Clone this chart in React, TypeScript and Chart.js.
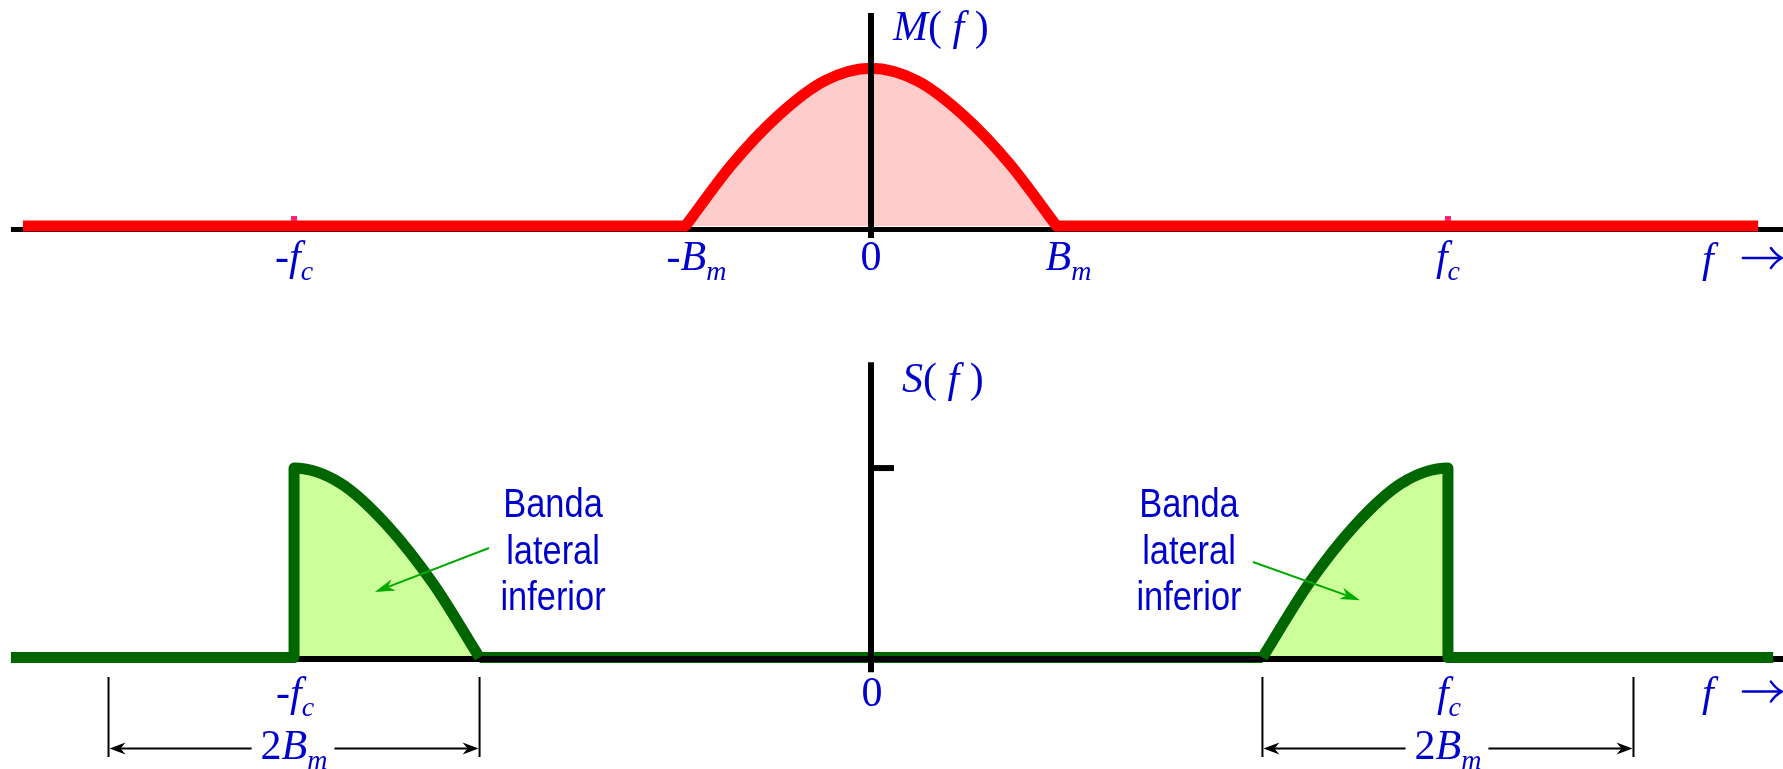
import React, { useEffect, useRef } from "react";
import { Chart, registerables } from "chart.js";

Chart.register(...registerables);

// ---- Data (frequency in units of B_m, amplitudes normalised to the peak) ----
const BM = 1;
const FC = 3.11;

// Message spectrum M(f)
const messageFreqs = [-1, -0.75, -0.5, -0.25, 0, 0.25, 0.5, 0.75, 1];
const messageValues = [0, 0.39, 0.7, 0.92, 1, 0.92, 0.7, 0.39, 0];

// Lower side bands of S(f)
const lsbLeftFreqs = [-3.11, -2.86, -2.61, -2.36, -2.11];
const lsbLeftValues = [1, 0.92, 0.7, 0.39, 0];
const lsbRightFreqs = [2.11, 2.36, 2.61, 2.86, 3.11];
const lsbRightValues = [0, 0.39, 0.7, 0.92, 1];

// Extent of the traces along f
const topTraceRange = [-4.571, 4.782];
const bottomTraceRange = [-4.636, 4.863];
const axisRange = [-4.636, 4.916];

// Tick labels
const topTickValues = [-FC, -BM, 0, BM, FC];
const topTickLabels = ["-fc", "-Bm", "0", "Bm", "fc"];
const bottomTickValues = [-FC, 0, FC];
const bottomTickLabels = ["-fc", "0", "fc"];
const dimensionCenters = [-FC, FC];
const bandLabelLines = ["Banda", "lateral", "inferior"];

// ---- Styling ----
const BLUE = "#0000cc";
const RED = "#ff0000";
const PINK = "#ffcccc";
const DKGREEN = "#006600";
const LTGREEN = "#ccff99";
const ARROWGREEN = "#00aa00";

type Part = { t: string; i?: boolean; sub?: boolean };
const RICH: Record<string, Part[]> = {
  "-fc": [{ t: "-" }, { t: "f", i: true }, { t: "c", i: true, sub: true }],
  fc: [{ t: "f", i: true }, { t: "c", i: true, sub: true }],
  "-Bm": [{ t: "-" }, { t: "B", i: true }, { t: "m", i: true, sub: true }],
  Bm: [{ t: "B", i: true }, { t: "m", i: true, sub: true }],
  "2Bm": [{ t: "2" }, { t: "B", i: true }, { t: "m", i: true, sub: true }],
  "0": [{ t: "0" }],
  "M(f)": [{ t: "M", i: true }, { t: "( " }, { t: "f", i: true }, { t: " )" }],
  "S(f)": [{ t: "S", i: true }, { t: "( " }, { t: "f", i: true }, { t: " )" }],
  f: [{ t: "f", i: true }],
};

const LABEL_DX: Record<string, number> = { "-Bm": 11, Bm: 12 };

function fontFor(p: Part) {
  return `${p.i ? "italic " : ""}${p.sub ? 28 : 42}px "Liberation Serif", "Times New Roman", "DejaVu Serif", serif`;
}

function drawRich(ctx: CanvasRenderingContext2D, parts: Part[], x: number, y: number, align: "left" | "center") {
  let w = 0;
  const ws: number[] = [];
  for (const p of parts) {
    ctx.font = fontFor(p);
    const m = ctx.measureText(p.t).width;
    ws.push(m);
    w += m;
  }
  let cx = align === "center" ? x - w / 2 : x;
  ctx.textAlign = "left";
  ctx.textBaseline = "alphabetic";
  parts.forEach((p, k) => {
    ctx.font = fontFor(p);
    ctx.fillText(p.t, cx, y + (p.sub ? 10 : 0));
    cx += ws[k];
  });
  return w;
}

function arrowHead(
  ctx: CanvasRenderingContext2D,
  x1: number, y1: number, x2: number, y2: number,
  len: number, half: number, notch: number
) {
  const a = Math.atan2(y2 - y1, x2 - x1);
  ctx.save();
  ctx.translate(x2, y2);
  ctx.rotate(a);
  ctx.beginPath();
  ctx.moveTo(0, 0);
  ctx.lineTo(-len, -half);
  ctx.lineTo(-len + notch, 0);
  ctx.lineTo(-len, half);
  ctx.closePath();
  ctx.fill();
  ctx.restore();
}

// math-style right arrow (as in "f ->")
function mathArrow(ctx: CanvasRenderingContext2D, x1: number, x2: number, y: number) {
  ctx.save();
  ctx.strokeStyle = BLUE;
  ctx.lineWidth = 2.6;
  ctx.lineCap = "round";
  ctx.beginPath();
  ctx.moveTo(x1, y);
  ctx.lineTo(x2 - 1, y);
  ctx.stroke();
  ctx.lineWidth = 2.4;
  ctx.beginPath();
  ctx.moveTo(x2 - 11, y - 10);
  ctx.quadraticCurveTo(x2 - 6, y - 3, x2, y);
  ctx.quadraticCurveTo(x2 - 6, y + 3, x2 - 11, y + 10);
  ctx.stroke();
  ctx.restore();
}

const annotationPlugin = {
  id: "dsbAnnotations",
  afterDraw(chart: any) {
    const ctx: CanvasRenderingContext2D = chart.ctx;
    const xs = chart.scales.x;
    const yT = chart.scales.yT;
    const yB = chart.scales.yB;
    const X = (v: number) => xs.getPixelForValue(v);
    const topBase = yT.getPixelForValue(0);
    const botBase = yB.getPixelForValue(0);
    const x0 = X(0);

    ctx.save();
    ctx.fillStyle = BLUE;

    // tick labels
    topTickValues.forEach((v, k) => {
      const lab = topTickLabels[k];
      drawRich(ctx, RICH[lab], X(v) + (LABEL_DX[lab] || 0), topBase + 44, "center");
    });
    bottomTickValues.forEach((v, k) => {
      const lab = bottomTickLabels[k];
      drawRich(ctx, RICH[lab], X(v) + 1, botBase + 48, "center");
    });

    // axis names
    drawRich(ctx, RICH["M(f)"], x0 + 22, topBase - 186, "left");
    drawRich(ctx, RICH["S(f)"], x0 + 31, botBase - 265.5, "left");
    drawRich(ctx, RICH.f, X(4.48), topBase + 46, "left");
    mathArrow(ctx, X(4.7), X(4.91), topBase + 32);
    drawRich(ctx, RICH.f, X(4.48), botBase + 48, "left");
    mathArrow(ctx, X(4.7), X(4.91), botBase + 34);

    // "Banda lateral inferior" labels
    const bandX = [-1.714, 1.714];
    const bandY = yB.getPixelForValue(0.741);
    ctx.font = '40px "Liberation Sans", Arial, sans-serif';
    ctx.textAlign = "center";
    bandX.forEach((bx) => {
      bandLabelLines.forEach((t, k) => {
        ctx.save();
        ctx.translate(X(bx), bandY + k * 46.5);
        ctx.scale(0.86, 1);
        ctx.fillText(t, 0, 0);
        ctx.restore();
      });
    });

    // green pointer arrows
    const arrows = [
      { from: [-2.059, 0.578], to: [-2.674, 0.346] },
      { from: [2.059, 0.504], to: [2.636, 0.303] },
    ];
    ctx.strokeStyle = ARROWGREEN;
    ctx.fillStyle = ARROWGREEN;
    ctx.lineWidth = 2;
    arrows.forEach((a) => {
      const x1 = X(a.from[0]), y1 = yB.getPixelForValue(a.from[1]);
      const x2 = X(a.to[0]), y2 = yB.getPixelForValue(a.to[1]);
      const ang = Math.atan2(y2 - y1, x2 - x1);
      ctx.beginPath();
      ctx.moveTo(x1, y1);
      ctx.lineTo(x2 - Math.cos(ang) * 12, y2 - Math.sin(ang) * 12);
      ctx.stroke();
      arrowHead(ctx, x1, y1, x2, y2, 20, 6, 6);
    });

    // dimension lines 2B_m
    ctx.strokeStyle = "#000";
    ctx.fillStyle = "#000";
    dimensionCenters.forEach((c) => {
      const xl = X(c - BM), xr = X(c + BM), xc = X(c);
      const yTop = botBase + 19.5, yBot = botBase + 99.5, ya = botBase + 91;
      ctx.lineWidth = 2;
      ctx.beginPath();
      ctx.moveTo(xl, yTop); ctx.lineTo(xl, yBot);
      ctx.moveTo(xr, yTop); ctx.lineTo(xr, yBot);
      ctx.stroke();
      ctx.fillStyle = BLUE;
      const w = drawRich(ctx, RICH["2Bm"], xc, botBase + 101, "center");
      ctx.fillStyle = "#000";
      const gl = xc - w / 2 - 9, gr = xc + w / 2 + 7;
      ctx.beginPath();
      ctx.moveTo(gl, ya); ctx.lineTo(xl + 8, ya);
      ctx.moveTo(gr, ya); ctx.lineTo(xr - 8, ya);
      ctx.stroke();
      arrowHead(ctx, gl, ya, xl + 1, ya, 16, 6, 5);
      arrowHead(ctx, gr, ya, xr - 1, ya, 16, 6, 5);
    });

    ctx.restore();
  },
};

const pts = (xs: number[], ys: number[]) => xs.map((x, i) => ({ x, y: ys[i] }));
const seg = (x1: number, y1: number, x2: number, y2: number) => [{ x: x1, y: y1 }, { x: x2, y: y2 }];

export default function App() {
  const ref = useRef<HTMLCanvasElement>(null);

  useEffect(() => {
    const canvas = ref.current;
    if (!canvas) return;
    const none = "rgba(0,0,0,0)";
    const datasets: any[] = [
      // vertical axes and tick (top-most)
      { label: "axis M", data: seg(0, 1.351, 0, -0.076), yAxisID: "yT", borderColor: "#000", borderWidth: 6, fill: false },
      { label: "axis S", data: seg(0, 1.559, 0, -0.077), yAxisID: "yB", borderColor: "#000", borderWidth: 6, fill: false },
      { label: "tick S", data: seg(0, 1, 0.124, 1), yAxisID: "yB", borderColor: "#000", borderWidth: 6, fill: false },

      // ---- upper panel ----
      {
        label: "M(f)", data: pts(messageFreqs, messageValues), yAxisID: "yT",
        borderColor: RED, borderWidth: 11, cubicInterpolationMode: "monotone", borderCapStyle: "round", fill: false,
      },
      { label: "M left", data: seg(topTraceRange[0], 0, -BM, 0), yAxisID: "yT", borderColor: RED, borderWidth: 11, fill: false },
      { label: "M right", data: seg(BM, 0, topTraceRange[1], 0), yAxisID: "yT", borderColor: RED, borderWidth: 11, fill: false },
      { label: "mark -fc", data: seg(-FC, 0, -FC, 0.063), yAxisID: "yT", borderColor: "#ff1f7a", borderWidth: 6, fill: false },
      { label: "mark fc", data: seg(FC, 0, FC, 0.063), yAxisID: "yT", borderColor: "#ff1f7a", borderWidth: 6, fill: false },
      { label: "f axis top", data: seg(axisRange[0], -0.022, axisRange[1], -0.022), yAxisID: "yT", borderColor: "#000", borderWidth: 5, fill: false },
      {
        label: "M fill", data: pts(messageFreqs, messageValues), yAxisID: "yT",
        borderColor: none, borderWidth: 0, cubicInterpolationMode: "monotone", fill: "origin", backgroundColor: PINK,
      },

      // ---- lower panel ----
      {
        label: "S left", data: [{ x: bottomTraceRange[0], y: 0 }, { x: -FC, y: 0 }, ...pts(lsbLeftFreqs, lsbLeftValues)],
        yAxisID: "yB", borderColor: DKGREEN, borderWidth: 11, cubicInterpolationMode: "monotone", borderJoinStyle: "round", fill: false,
      },
      {
        label: "S right", data: [...pts(lsbRightFreqs, lsbRightValues), { x: FC, y: 0 }, { x: bottomTraceRange[1], y: 0 }],
        yAxisID: "yB", borderColor: DKGREEN, borderWidth: 11, cubicInterpolationMode: "monotone", borderJoinStyle: "round", fill: false,
      },
      { label: "f axis bottom", data: seg(axisRange[0], -0.008, axisRange[1], -0.008), yAxisID: "yB", borderColor: "#000", borderWidth: 6, fill: false },
      { label: "S middle", data: seg(-FC + BM, 0, FC - BM, 0), yAxisID: "yB", borderColor: DKGREEN, borderWidth: 11, fill: false },
      {
        label: "LSB fill left", data: pts(lsbLeftFreqs, lsbLeftValues), yAxisID: "yB",
        borderColor: none, borderWidth: 0, cubicInterpolationMode: "monotone", fill: "origin", backgroundColor: LTGREEN,
      },
      {
        label: "LSB fill right", data: pts(lsbRightFreqs, lsbRightValues), yAxisID: "yB",
        borderColor: none, borderWidth: 0, cubicInterpolationMode: "monotone", fill: "origin", backgroundColor: LTGREEN,
      },
    ];

    const chart = new Chart(canvas, {
      type: "line",
      data: { datasets },
      options: {
        responsive: false,
        animation: false,
        events: [],
        layout: { padding: 0 },
        elements: { point: { radius: 0, hoverRadius: 0 }, line: { tension: 0 } },
        plugins: { legend: { display: false }, tooltip: { enabled: false }, title: { display: false } },
        scales: {
          x: { type: "linear", min: -4.695, max: 4.916, display: false },
          yT: { type: "linear", position: "left", min: -3.443, max: 1.433, display: false },
          yB: { type: "linear", position: "left", min: -0.588, max: 3.47, display: false },
        },
      } as any,
      plugins: [annotationPlugin],
    });
    return () => chart.destroy();
  }, []);

  return (
    <div style={{ position: "fixed", left: 0, top: 0, width: 1783, height: 769, background: "#fff" }}>
      <canvas ref={ref} width={1783} height={769} style={{ display: "block", width: 1783, height: 769 }} />
    </div>
  );
}
